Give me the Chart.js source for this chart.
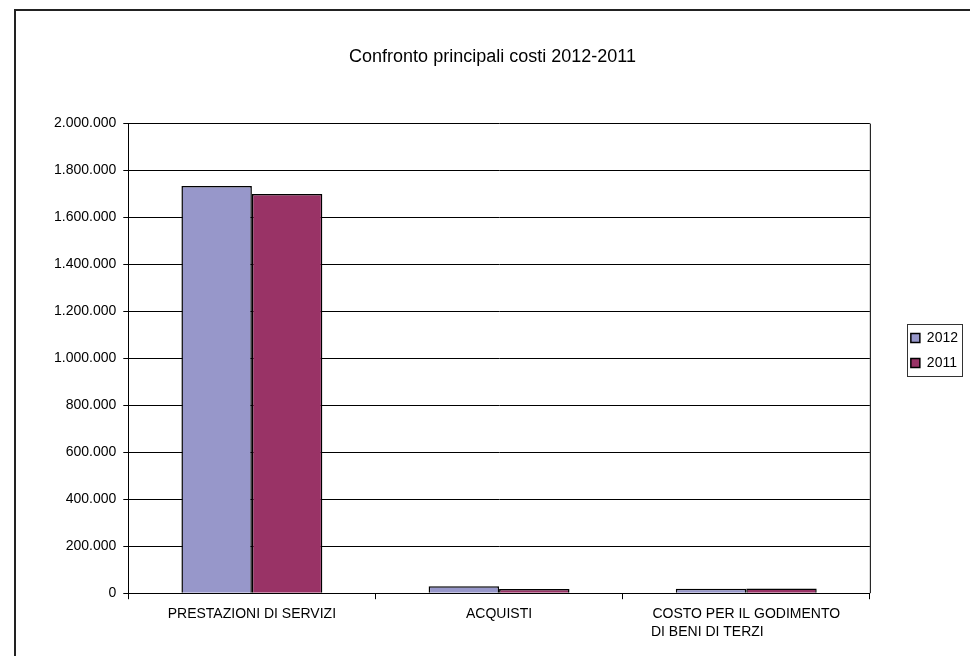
<!DOCTYPE html>
<html>
<head>
<meta charset="utf-8">
<script src="https://cdn.jsdelivr.net/npm/chart.js@4/dist/chart.umd.min.js"></script>
<style>
  body { margin: 0; background: #fff; }
  #frame { position: absolute; left: 14px; top: 9px; width: 1000px; height: 700px; border: 2px solid #222; }
  #wrap { position: absolute; left: 0; top: 0; width: 970px; height: 656px; }
</style>
</head>
<body>
<div id="frame"></div>
<div id="wrap"><canvas id="chart"></canvas></div>
<script>
const categories = [
  'PRESTAZIONI DI SERVIZI',
  'ACQUISTI',
  ['COSTO PER IL GODIMENTO', 'DI BENI DI TERZI                    ']
];
const values2012 = [1734000, 30000, 19000];
const values2011 = [1700000, 18000, 20000];
const yTicks = [0, 200000, 400000, 600000, 800000, 1000000, 1200000, 1400000, 1600000, 1800000, 2000000];

const FONT = 'Liberation Sans, Arial, sans-serif';

// format numbers the italian way: 1.800.000
function fmt(v) {
  return String(v).replace(/\B(?=(\d{3})+(?!\d))/g, '.');
}

// move the legend a bit away from the plot, draw plot right edge and legend frame
const extras = {
  id: 'extras',
  afterLayout(chart) {
    const l = chart.legend;
    l.left += 30; l.right += 30;
    l.top += 4; l.bottom += 4;
  },
  afterDraw(chart) {
    const ctx = chart.ctx;
    const a = chart.chartArea;
    ctx.save();
    ctx.strokeStyle = '#000';
    ctx.lineWidth = 1;
    ctx.beginPath();
    ctx.moveTo(a.right + 0.5, a.top);
    ctx.lineTo(a.right + 0.5, a.bottom);
    ctx.stroke();
    const boxes = chart.legend.legendHitBoxes;
    if (boxes.length) {
      const x0 = boxes[0].left - 4;
      const y0 = boxes[0].top - 7;
      const w = Math.max(...boxes.map(b => b.width)) + 8;
      const last = boxes[boxes.length - 1];
      const y1 = last.top + last.height + 6;
      ctx.strokeStyle = '#333';
      ctx.strokeRect(Math.round(x0) + 0.5, Math.round(y0) + 0.5, Math.round(w), Math.round(y1 - y0));
    }
    ctx.restore();
  }
};

new Chart(document.getElementById('chart'), {
  type: 'bar',
  data: {
    labels: categories,
    datasets: [
      { label: '2012', data: values2012, backgroundColor: '#9797ca', borderColor: '#000', borderWidth: 1.5 },
      { label: '2011', data: values2011, backgroundColor: '#993366', borderColor: '#000', borderWidth: 1.5 }
    ]
  },
  options: {
    responsive: true,
    maintainAspectRatio: false,
    animation: false,
    categoryPercentage: 0.57,
    barPercentage: 1,
    layout: { padding: { left: 47, right: 32, top: 46, bottom: 9 } },
    plugins: {
      title: {
        display: true,
        text: 'Confronto principali costi 2012-2011',
        color: '#000',
        font: { family: FONT, size: 18, weight: 'normal' },
        padding: { top: 0, bottom: 56 }
      },
      legend: {
        position: 'right',
        labels: {
          color: '#000',
          boxWidth: 9,
          boxHeight: 9,
          padding: 11,
          font: { family: FONT, size: 14 }
        }
      },
      tooltip: { enabled: false }
    },
    scales: {
      x: {
        grid: { offset: true, drawOnChartArea: false, color: '#000', tickLength: 6 },
        border: { color: '#000' },
        ticks: {
          color: '#000',
          maxRotation: 0,
          padding: 5,
          font: { family: FONT, size: 14, lineHeight: 1.35 }
        }
      },
      y: {
        min: 0,
        max: 2000000,
        afterBuildTicks(axis) { axis.ticks = yTicks.map(v => ({ value: v })); },
        grid: { color: '#000', tickLength: 5 },
        border: { color: '#000' },
        ticks: {
          color: '#000',
          padding: 7,
          callback: v => fmt(v),
          font: { family: FONT, size: 14 }
        }
      }
    }
  },
  plugins: [extras]
});
</script>
</body>
</html>
